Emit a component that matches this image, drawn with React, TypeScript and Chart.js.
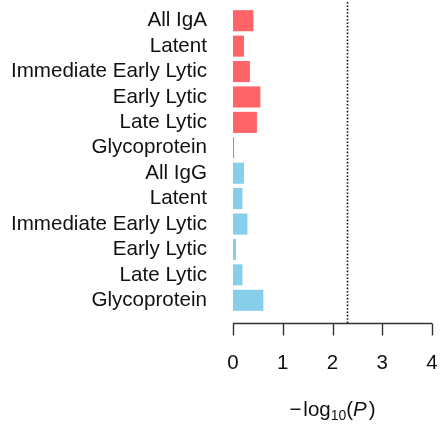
import React, { useEffect, useRef } from "react";
import { Chart, registerables } from "chart.js";

Chart.register(...registerables);

const categories = [
  "All IgA",
  "Latent",
  "Immediate Early Lytic",
  "Early Lytic",
  "Late Lytic",
  "Glycoprotein",
  "All IgG",
  "Latent",
  "Immediate Early Lytic",
  "Early Lytic",
  "Late Lytic",
  "Glycoprotein",
];
const values = [0.41, 0.22, 0.34, 0.55, 0.48, 0.02, 0.22, 0.19, 0.29, 0.06, 0.19, 0.61];
const groups = ["IgA", "IgA", "IgA", "IgA", "IgA", "IgA", "IgG", "IgG", "IgG", "IgG", "IgG", "IgG"];
const groupColors: Record<string, string> = { IgA: "#FF6468", IgG: "#87CEEB" };
const threshold = 2.301;
const xTicks = [0, 1, 2, 3, 4];

const FONT = "'Liberation Sans', Arial, sans-serif";

const overlay = {
  id: "overlay",
  afterDraw(chart: any) {
    const { ctx, chartArea } = chart;
    const x = chart.scales.x;
    const axisY = chartArea.bottom + 10.5;
    ctx.save();
    // axis line and ticks
    ctx.strokeStyle = "#333";
    ctx.lineWidth = 1.4;
    ctx.beginPath();
    ctx.moveTo(x.getPixelForValue(xTicks[0]), axisY);
    ctx.lineTo(x.getPixelForValue(xTicks[xTicks.length - 1]), axisY);
    for (const t of xTicks) {
      const px = Math.round(x.getPixelForValue(t)) + 0.5;
      ctx.moveTo(px, axisY);
      ctx.lineTo(px, axisY + 12);
    }
    ctx.stroke();
    // dotted threshold line
    const tx = Math.round(x.getPixelForValue(threshold)) + 0.5;
    ctx.setLineDash([1.6, 1.8]);
    ctx.strokeStyle = "#111";
    ctx.lineWidth = 1.6;
    ctx.beginPath();
    ctx.moveTo(tx, 2);
    ctx.lineTo(tx, axisY);
    ctx.stroke();
    ctx.setLineDash([]);
    // axis title: −log10(P)
    const cx = (x.getPixelForValue(xTicks[0]) + x.getPixelForValue(xTicks[xTicks.length - 1])) / 2;
    const baseY = 416;
    const big = `20.5px ${FONT}`;
    const small = `14px ${FONT}`;
    const ital = `italic 20.5px ${FONT}`;
    const parts: [string, string, number][] = [
      ["\u2212", big, 0],
      ["log", big, 0],
      ["10", small, 4],
      ["(", big, 0],
      ["P", ital, 0],
      [")", big, 0],
    ];
    let total = 0;
    const widths: number[] = [];
    for (const [t, f] of parts) {
      ctx.font = f;
      const w = ctx.measureText(t).width + (t === "\u2212" ? 2 : 0) + (t === "P" ? 2 : 0);
      widths.push(w);
      total += w;
    }
    let px = cx - total / 2;
    ctx.fillStyle = "#111";
    ctx.textBaseline = "alphabetic";
    ctx.textAlign = "left";
    parts.forEach(([t, f, dy], i) => {
      ctx.font = f;
      ctx.fillText(t, px, baseY + dy);
      px += widths[i];
    });
    ctx.restore();
  },
};

export default function App() {
  const ref = useRef<HTMLCanvasElement | null>(null);
  useEffect(() => {
    if (!ref.current) return;
    const chart = new Chart(ref.current, {
      type: "bar",
      data: {
        labels: categories,
        datasets: [
          {
            data: values,
            backgroundColor: groups.map((g) => groupColors[g]),
            borderWidth: 0,
            barPercentage: 0.83,
            categoryPercentage: 1,
          },
        ],
      },
      options: {
        indexAxis: "y",
        animation: false,
        responsive: true,
        maintainAspectRatio: false,
        layout: { padding: { top: 8, right: 9, bottom: 0, left: 0 } },
        plugins: { legend: { display: false }, tooltip: { enabled: false } },
        scales: {
          x: {
            type: "linear",
            min: 0,
            max: 4,
            ticks: {
              stepSize: 1,
              padding: 38,
              color: "#111",
              font: { family: FONT, size: 20.5 },
            },
            grid: { display: false, drawTicks: false },
            border: { display: false },
            afterFit: (s: any) => {
              s.height = 117;
              s.paddingLeft = 0;
              s.paddingRight = 0;
            },
          },
          y: {
            type: "category",
            ticks: {
              padding: 26,
              color: "#111",
              font: { family: FONT, size: 20.6 },
              autoSkip: false,
            },
            grid: { display: false, drawTicks: false },
            border: { display: false },
            afterFit: (s: any) => {
              s.width = 233;
              s.paddingTop = 0;
              s.paddingBottom = 0;
            },
          },
        },
      },
      plugins: [overlay],
    });
    return () => chart.destroy();
  }, []);
  return (
    <div style={{ position: "fixed", left: 0, top: 0, width: 441, height: 430 }}>
      <canvas ref={ref} />
    </div>
  );
}
